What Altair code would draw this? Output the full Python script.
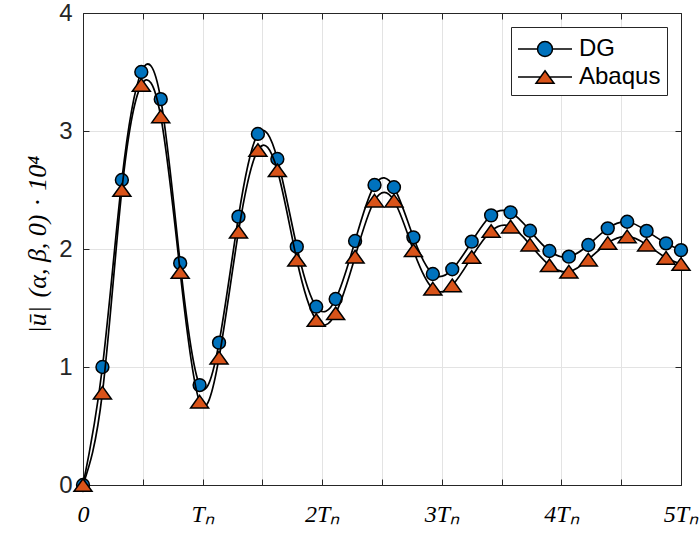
import altair as alt
import pandas as pd

# time in units of T_n (marker positions)
t_tn = [0, 0.1625, 0.325, 0.4875, 0.65, 0.8125, 0.975, 1.1375, 1.3, 1.4625,
        1.625, 1.7875, 1.95, 2.1125, 2.275, 2.4375, 2.6, 2.7625, 2.925, 3.0875,
        3.25, 3.4125, 3.575, 3.7375, 3.9, 4.0625, 4.225, 4.3875, 4.55, 4.7125,
        4.875, 5.0]
dg = [0, 1.00, 2.585, 3.50, 3.27, 1.88, 0.847, 1.206, 2.274, 2.975,
      2.763, 2.02, 1.511, 1.576, 2.068, 2.542, 2.523, 2.099, 1.788, 1.828,
      2.062, 2.285, 2.311, 2.155, 1.983, 1.935, 2.034, 2.175, 2.231, 2.153,
      2.048, 1.99]
abaqus = [0, 0.782, 2.50, 3.39, 3.124, 1.805, 0.706, 1.079, 2.147, 2.839,
          2.667, 1.909, 1.398, 1.455, 1.935, 2.41, 2.41, 1.989, 1.664, 1.692,
          1.932, 2.152, 2.19, 2.037, 1.862, 1.808, 1.91, 2.051, 2.107, 2.037,
          1.925, 1.873]
series_names = ["DG", "Abaqus"]
series_colors = ["#0072BD", "#D95319"]
x_ticks = [0, 0.5, 1, 1.5, 2, 2.5, 3, 3.5, 4, 4.5, 5]
y_ticks = [0, 1, 2, 3, 4]
y_title = "|ū|\u2004(α, β, 0)\u2004·\u200410⁴"

df_dg = pd.DataFrame({"t": t_tn, "u": dg})
df_ab = pd.DataFrame({"t": t_tn, "u": abaqus})
legend_df = pd.DataFrame({"series": series_names})

tri_path = "M0,-0.7L1,0.7L-1,0.7Z"
circ_leg = ("M-1.8,0L-0.5,0M0.5,0L1.8,0"
            "M-0.5,0C-0.5,-0.276,-0.276,-0.5,0,-0.5C0.276,-0.5,0.5,-0.276,0.5,0"
            "C0.5,0.276,0.276,0.5,0,0.5C-0.276,0.5,-0.5,0.276,-0.5,0Z")
tri_leg = "M-1.8,0L-0.3,0M0.3,0L1.8,0M0,-0.42L0.6,0.42L-0.6,0.42Z"

x_scale = alt.Scale(domain=[0, 5], nice=False, zero=False)
y_scale = alt.Scale(domain=[0, 4], nice=False, zero=False)
inward = alt.ExprRef(expr="-6")
axc = "#262626"
gridc = "#e3e3e3"

label_expr = ("datum.value == 0 ? '0' : datum.value == 1 ? 'Tₙ' : "
              "(datum.value % 1 == 0 ? datum.value + 'Tₙ' : '')")

x_axis_main = alt.Axis(values=x_ticks, labelExpr=label_expr, grid=True, gridColor=gridc,
                       tickSize=inward, tickColor=axc, domainColor=axc, title=None,
                       labelFont="Liberation Serif", labelFontStyle="italic", labelFontSize=24,
                       labelColor="black", labelPadding=23, labelAngle=0, labelOverlap=False,
                       labelFlush=False)
y_axis_main = alt.Axis(values=y_ticks, grid=True, gridColor=gridc, tickSize=inward,
                       tickColor=axc, domainColor=axc,
                       title=y_title, titleFont="Liberation Serif",
                       titleFontSize=26, titleFontStyle="italic", titleFontWeight="normal",
                       titleColor="black", titlePadding=8, titleY=231,
                       labelFont="Liberation Sans", labelFontSize=24, labelColor=axc,
                       labelPadding=17, labelOverlap=False, labelFlush=False)
x_axis_top = alt.Axis(orient="top", values=x_ticks, labels=False, grid=False, tickSize=inward,
                      tickColor=axc, domainColor=axc, title=None)
y_axis_right = alt.Axis(orient="right", values=y_ticks, labels=False, grid=False, tickSize=inward,
                        tickColor=axc, domainColor=axc, title=None)

line_dg = alt.Chart(df_dg).mark_line(color="black", strokeWidth=1.7, interpolate="natural").encode(
    x=alt.X("t:Q", scale=x_scale, axis=x_axis_main),
    y=alt.Y("u:Q", scale=y_scale, axis=y_axis_main))
pts_dg = alt.Chart(df_dg).mark_point(shape="circle", filled=True, fill=series_colors[0], stroke="black",
                                     strokeWidth=1.5, size=165, opacity=1).encode(
    x=alt.X("t:Q", scale=x_scale, axis=None),
    y=alt.Y("u:Q", scale=y_scale, axis=None))
line_ab = alt.Chart(df_ab).mark_line(color="black", strokeWidth=1.7, interpolate="natural").encode(
    x=alt.X("t:Q", scale=x_scale, axis=x_axis_top),
    y=alt.Y("u:Q", scale=y_scale, axis=y_axis_right))
pts_ab = alt.Chart(df_ab).mark_point(shape=tri_path, filled=True, fill=series_colors[1], stroke="black",
                                     strokeWidth=1.5, size=324, opacity=1).encode(
    x=alt.X("t:Q", scale=x_scale, axis=None),
    y=alt.Y("u:Q", scale=y_scale, axis=None))

leg = alt.Legend(title=None, orient="top-right", offset=14, padding=6, strokeColor=axc,
                 fillColor="white", symbolSize=900, symbolStrokeColor="black",
                 symbolStrokeWidth=1.5, labelFont="Liberation Sans", labelFontSize=24,
                 labelColor="black", labelOffset=18, rowPadding=0, symbolOffset=12,
                 cornerRadius=0)
legend_layer = alt.Chart(legend_df).transform_filter("false").mark_point(
    filled=True, stroke="black", strokeWidth=1.5, opacity=1).encode(
    color=alt.Color("series:N", scale=alt.Scale(domain=series_names, range=series_colors), legend=leg),
    shape=alt.Shape("series:N", scale=alt.Scale(domain=series_names, range=[circ_leg, tri_leg]), legend=leg))

chart = alt.layer(line_dg, pts_dg, line_ab, pts_ab, legend_layer).resolve_axis(
    x="independent", y="independent"
).properties(
    width=598, height=472,
    autosize=alt.AutoSizeParams(type="none"),
    padding={"left": 83, "top": 13, "right": 19, "bottom": 48},
    background="white",
).configure_view(stroke=None)

chart.save("out.html", embed_options={"renderer": "svg", "actions": False})
